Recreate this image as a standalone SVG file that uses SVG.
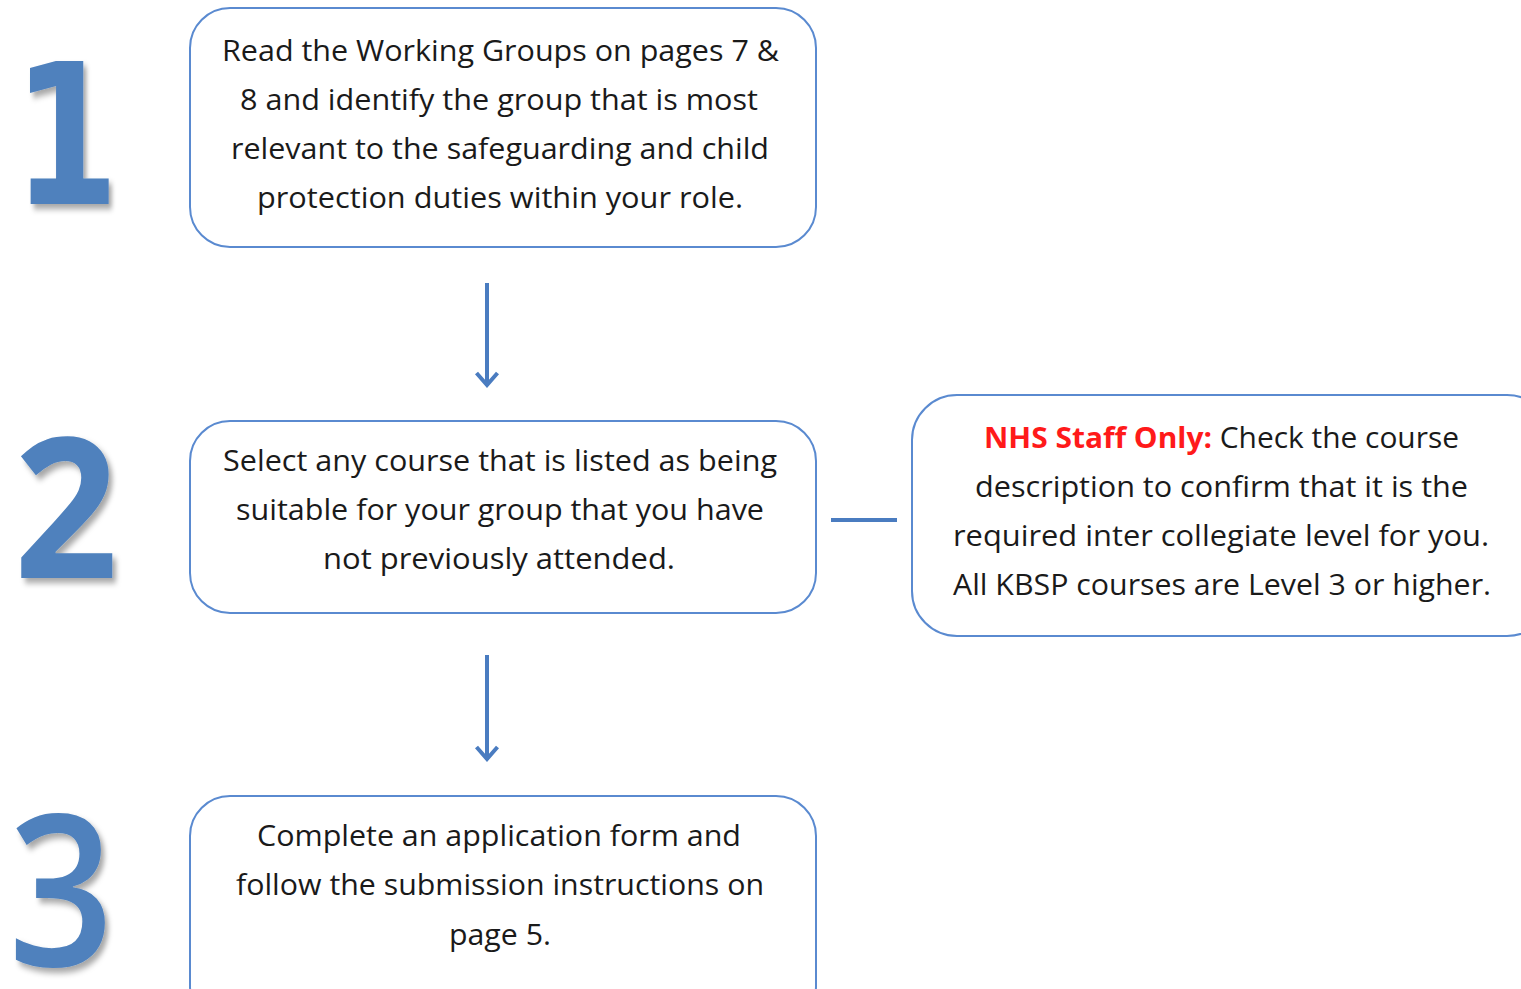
<svg xmlns="http://www.w3.org/2000/svg" width="1521" height="989" viewBox="0 0 1521 989">
<defs>
<style>
.box{fill:#ffffff;stroke:#5a8ad0;stroke-width:2}
.t{font-family:"Open Sans","Noto Sans","Liberation Sans",sans-serif;font-size:29px;fill:#1a1a1a}
.num{font-family:"Open Sans","Noto Sans","Liberation Sans",sans-serif;font-weight:bold;fill:#4f81bd;text-anchor:middle}
.conn{stroke:#4a7cc0;stroke-width:4;fill:none}
.red{fill:#ff1a1a;font-weight:bold}
</style>
<filter id="sh" x="-30%" y="-20%" width="170%" height="150%">
<feDropShadow dx="4" dy="5" stdDeviation="3" flood-color="#000" flood-opacity="0.35"/>
</filter>
<marker id="ah" viewBox="0 0 17 26" refX="15" refY="13" markerWidth="17" markerHeight="26" markerUnits="userSpaceOnUse" orient="auto">
<path d="M2,2.5 L14,13 L2,23.5" fill="none" stroke="#4a7cc0" stroke-width="4" stroke-linejoin="miter"/>
</marker>
</defs>
<rect width="1521" height="989" fill="#ffffff"/>

<g id="num1"><text class="num" style="font-family:'DejaVu Sans',sans-serif" transform="translate(66,204) scale(0.78,1)" font-size="196" filter="url(#sh)">1</text></g>
<g id="num2"><text class="num" transform="translate(66,578) scale(0.93,1)" font-size="196" filter="url(#sh)">2</text></g>
<g id="num3"><text class="num" style="font-weight:600" transform="translate(61,966) scale(0.88,1)" font-size="210" filter="url(#sh)">3</text></g>

<g id="connectors">
<line class="conn" x1="487" y1="283" x2="487" y2="386" marker-end="url(#ah)"/>
<line class="conn" x1="487" y1="655" x2="487" y2="760" marker-end="url(#ah)"/>
<line class="conn" x1="831" y1="520" x2="897" y2="520"/>
</g>

<g id="step1">
<rect class="box" x="190" y="8" width="626" height="239" rx="40"/>
<text class="t" x="222" y="61" textLength="557" lengthAdjust="spacingAndGlyphs">Read the Working Groups on pages 7 &amp;</text>
<text class="t" x="240" y="110" textLength="518" lengthAdjust="spacingAndGlyphs">8 and identify the group that is most</text>
<text class="t" x="231" y="159" textLength="538" lengthAdjust="spacingAndGlyphs">relevant to the safeguarding and child</text>
<text class="t" x="257" y="208" textLength="486" lengthAdjust="spacingAndGlyphs">protection duties within your role.</text>
</g>

<g id="step2">
<rect class="box" x="190" y="421" width="626" height="192" rx="40"/>
<text class="t" x="223" y="471" textLength="554" lengthAdjust="spacingAndGlyphs">Select any course that is listed as being</text>
<text class="t" x="236" y="520" textLength="528" lengthAdjust="spacingAndGlyphs">suitable for your group that you have</text>
<text class="t" x="323" y="569" textLength="352" lengthAdjust="spacingAndGlyphs">not previously attended.</text>
</g>

<g id="note">
<rect class="box" x="912" y="395" width="640" height="241" rx="45"/>
<text class="t" x="984" y="448" textLength="475" lengthAdjust="spacingAndGlyphs"><tspan class="red">NHS Staff Only:</tspan> Check the course</text>
<text class="t" x="975" y="497" textLength="493" lengthAdjust="spacingAndGlyphs">description to confirm that it is the</text>
<text class="t" x="953" y="546" textLength="536" lengthAdjust="spacingAndGlyphs">required inter collegiate level for you.</text>
<text class="t" x="953" y="595" textLength="538" lengthAdjust="spacingAndGlyphs">All KBSP courses are Level 3 or higher.</text>
</g>

<g id="step3">
<rect class="box" x="190" y="796" width="626" height="230" rx="40"/>
<text class="t" x="257" y="846" textLength="484" lengthAdjust="spacingAndGlyphs">Complete an application form and</text>
<text class="t" x="236" y="895" textLength="528" lengthAdjust="spacingAndGlyphs">follow the submission instructions on</text>
<text class="t" x="449" y="945" textLength="102" lengthAdjust="spacingAndGlyphs">page 5.</text>
</g>
</svg>
